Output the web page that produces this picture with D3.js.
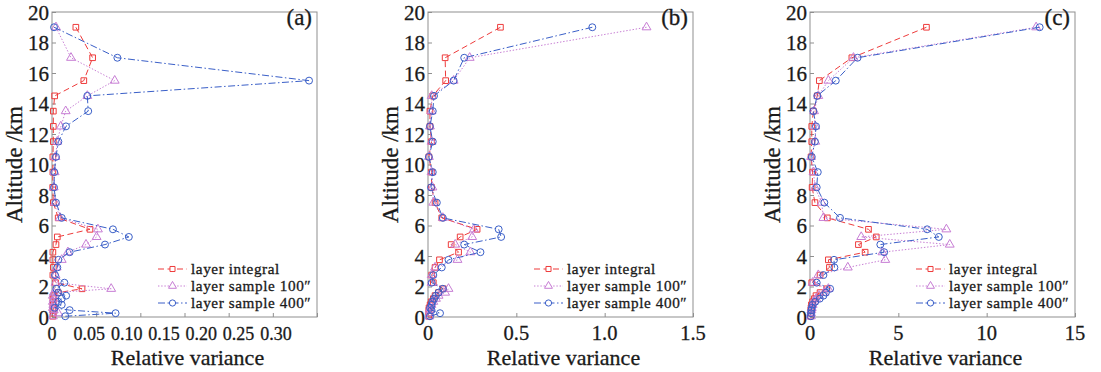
<!DOCTYPE html>
<html>
<head>
<meta charset="utf-8">
<script src="https://cdn.jsdelivr.net/npm/d3@7"></script>
<style>
  body { margin: 0; background: #fff; }
</style>
</head>
<body>
<div id="chart"></div>
<script>
// Altitude levels (km), shared by all three panels
const altitudes = [19, 17, 15.5, 14.5, 13.5, 12.5, 11.5, 10.5, 9.5, 8.5, 7.5, 6.5, 5.75, 5.25, 4.75, 4.25,
    3.75, 3.25, 2.75, 2.25, 1.85, 1.6, 1.4, 1.2, 1.0, 0.8, 0.6, 0.45, 0.25, 0.05];

// Panel (a)
const integralA = [0.027, 0.046, 0.036, 0.003, 0.0015, 0.0015, 0.0015, 0.001, 0.001, 0.0008, 0.0015, 0.007, 0.043, 0.006, 0.0045, 0.001,
    0.001, 0.0015, 0.001, 0.004, 0.034, 0.007, 0.002, 0.001, 0.0015, 0.001, 0.002, 0.001, 0.0015, 0.001];
const sample100A = [0.0045, 0.0215, 0.071, 0.040, 0.0155, 0.010, 0.006, 0.004, 0.003, 0.002, 0.0034, 0.009, 0.052, 0.0505, 0.0385, 0.018,
    0.011, 0.0053, 0.004, 0.004, 0.067, 0.002, 0.001, 0.002, 0.001, 0.0015, 0.001, 0.002, 0.007, 0.001];
const sample400A = [0.0023, 0.074, 0.291, 0.040, 0.041, 0.0158, 0.0072, 0.0045, 0.0026, 0.0023, 0.0045, 0.011, 0.069, 0.087, 0.060, 0.020,
    0.0072, 0.006, 0.0034, 0.014, 0.005, 0.007, 0.016, 0.011, 0.007, 0.011, 0.003, 0.020, 0.072, 0.015];

// Panel (b)
const integralB = [0.41, 0.097, 0.10, 0.027, 0.011, 0.011, 0.02, 0.005, 0.02, 0.02, 0.04, 0.078, 0.278, 0.182, 0.131, 0.173,
    0.065, 0.04, 0.021, 0.03, 0.087, 0.059, 0.04, 0.03, 0.018, 0.012, 0.006, 0.005, 0.005, 0.004];
const sample100B = [1.237, 0.236, 0.145, 0.021, 0.02, 0.011, 0.02, 0.005, 0.02, 0.025, 0.03, 0.084, 0.26, 0.25, 0.154, 0.24,
    0.167, 0.04, 0.021, 0.02, 0.116, 0.097, 0.06, 0.045, 0.03, 0.02, 0.012, 0.01, 0.01, 0.008];
const sample400B = [0.93, 0.205, 0.145, 0.034, 0.027, 0.011, 0.027, 0.005, 0.027, 0.017, 0.05, 0.084, 0.40, 0.414, 0.205, 0.297,
    0.116, 0.078, 0.03, 0.021, 0.084, 0.06, 0.045, 0.035, 0.025, 0.02, 0.012, 0.02, 0.068, 0.011];

// Panel (c)
const integralC = [6.59, 2.37, 0.53, 0.41, 0.19, 0.1, 0.1, 0.06, 0.15, 0.12, 0.28, 0.98, 3.31, 3.75, 2.74, 3.12,
    1.04, 1.1, 0.57, 0.1, 0.95, 0.57, 0.34, 0.25, 0.15, 0.08, 0.06, 0.05, 0.04, 0.03];
const sample100C = [12.8, 2.46, 1.04, 0.47, 0.23, 0.3, 0.3, 0.06, 0.2, 0.28, 0.66, 0.76, 7.72, 2.9, 7.91, 4.1,
    4.26, 2.14, 0.47, 0.15, 1.04, 0.8, 0.5, 0.35, 0.2, 0.15, 0.1, 0.08, 0.06, 0.05];
const sample400C = [13.0, 2.69, 1.46, 0.41, 0.19, 0.34, 0.28, 0.1, 0.44, 0.38, 0.81, 1.7, 6.63, 7.29, 3.98, 4.2,
    1.36, 1.38, 0.76, 0.38, 1.14, 0.9, 0.76, 0.55, 0.3, 0.15, 0.1, 0.08, 0.06, 0.05];

// Axes
const yTicks = [0, 2, 4, 6, 8, 10, 12, 14, 16, 18, 20];
const xTicksA = [0, 0.05, 0.10, 0.15, 0.20, 0.25, 0.30];
const xLabelsA = ['0', '0.05', '0.10', '0.15', '0.20', '0.25', '0.30'];
const xTicksB = [0, 0.5, 1.0, 1.5];
const xLabelsB = ['0', '0.5', '1.0', '1.5'];
const xTicksC = [0, 5, 10, 15];
const xLabelsC = ['0', '5', '10', '15'];
const panelNames = ['(a)', '(b)', '(c)'];
const seriesNames = ['layer integral', 'layer sample 100\u2033', 'layer sample 400\u2033'];

const serif = '"Liberation Serif", "DejaVu Serif", serif';
const ink = '#1a1a1a';

// SVG canvas
const width = 1101;
const height = 372;
const svg = d3.select('#chart').append('svg')
    .attr('width', width)
    .attr('height', height)
    .attr('font-family', serif);
svg.append('rect').attr('width', width).attr('height', height).attr('fill', '#fff');

// Layout
const plotTop = 12;
const plotBottom = 317;
const plotWidth = 265;
const frameColor = '#8f8f8f';

const panels = [
    { left: 52, xMax: 0.3, ticks: xTicksA, labels: xLabelsA, labelSpread: 0.845, labelSize: 18,
      data: [integralA, sample100A, sample400A], name: panelNames[0] },
    { left: 428, xMax: 1.5, ticks: xTicksB, labels: xLabelsB, labelSpread: 1, labelSize: 20.5,
      data: [integralB, sample100B, sample400B], name: panelNames[1] },
    { left: 810, xMax: 15, ticks: xTicksC, labels: xLabelsC, labelSpread: 1, labelSize: 20.5,
      data: [integralC, sample100C, sample400C], name: panelNames[2] }
];

// Series styling: red dashed squares, violet dotted triangles, blue dash-dot circles
const styles = [
    { color: '#ee3b3b', dash: '6,3.5', symbol: d3.symbolSquare, size: 32 },
    { color: '#c77dd4', dash: '1.4,1.8', symbol: d3.symbolTriangle, size: 34 },
    { color: '#3a5fc8', dash: '7,2.5,1.5,2.5', symbol: d3.symbolCircle, size: 38 }
];

const y = d3.scaleLinear().domain([0, 20]).range([plotBottom, plotTop]);

// text in a slightly heavier serif, like the reference
function addText(g, size) {
    return g.append('text')
        .attr('font-family', serif)
        .attr('font-size', size)
        .attr('fill', ink)
        .attr('stroke', ink)
        .attr('stroke-width', 0.3);
}

panels.forEach(p => {
    const x = d3.scaleLinear().domain([0, p.xMax]).range([p.left, p.left + plotWidth]);
    // tick labels of panel (a) sit closer together than its tick marks
    const xl = d3.scaleLinear().domain([0, p.xMax]).range([p.left, p.left + plotWidth * p.labelSpread]);
    const g = svg.append('g');

    // x ticks (inward)
    const xAxis = g.append('g')
        .attr('transform', `translate(0,${plotBottom})`)
        .call(d3.axisBottom(x).tickValues(p.ticks).tickSize(-4));
    xAxis.select('.domain').remove();
    xAxis.selectAll('text').remove();
    xAxis.selectAll('line').attr('stroke', frameColor);

    // x tick labels
    p.ticks.forEach((t, i) => {
        addText(g, p.labelSize)
            .attr('x', xl(t))
            .attr('y', 340)
            .attr('text-anchor', 'middle')
            .text(p.labels[i]);
    });

    // y ticks (inward) and labels
    const yAxis = g.append('g')
        .attr('transform', `translate(${p.left},0)`)
        .call(d3.axisLeft(y).tickValues(yTicks).tickSize(-4).tickPadding(3).tickFormat(d3.format('d')));
    yAxis.select('.domain').remove();
    yAxis.attr('font-family', serif);
    yAxis.selectAll('line').attr('stroke', frameColor);
    yAxis.selectAll('text')
        .attr('font-size', 21)
        .attr('font-family', serif)
        .attr('fill', ink)
        .attr('stroke', ink)
        .attr('stroke-width', 0.3)
        .attr('dy', '0.34em');

    // frame
    g.append('rect')
        .attr('x', p.left)
        .attr('y', plotTop)
        .attr('width', plotWidth)
        .attr('height', plotBottom - plotTop)
        .attr('fill', 'none')
        .attr('stroke', frameColor)
        .attr('stroke-width', 1);

    // series
    const line = d3.line()
        .x(d => x(d[0]))
        .y(d => y(d[1]));

    p.data.forEach((values, s) => {
        const st = styles[s];
        const pts = values.map((v, i) => [v, altitudes[i]]);
        g.append('path')
            .datum(pts)
            .attr('d', line)
            .attr('fill', 'none')
            .attr('stroke', st.color)
            .attr('stroke-width', 1)
            .attr('stroke-dasharray', st.dash);
        g.selectAll(null)
            .data(pts)
            .join('path')
            .attr('transform', d => `translate(${x(d[0])},${y(d[1])})`)
            .attr('d', d3.symbol().type(st.symbol).size(st.size))
            .attr('fill', 'none')
            .attr('stroke', st.color)
            .attr('stroke-width', 1);
    });

    // legend
    seriesNames.forEach((name, s) => {
        const st = styles[s];
        const ly = 269 + s * 17;
        const lx = p.left + 106;
        g.append('line')
            .attr('x1', lx).attr('x2', lx + 29)
            .attr('y1', ly).attr('y2', ly)
            .attr('stroke', st.color)
            .attr('stroke-width', 1)
            .attr('stroke-dasharray', st.dash);
        g.append('path')
            .attr('transform', `translate(${lx + 14.5},${ly})`)
            .attr('d', d3.symbol().type(st.symbol).size(st.size * 0.8))
            .attr('fill', '#fff')
            .attr('stroke', st.color);
        addText(g, 15.2)
            .attr('x', lx + 33)
            .attr('y', ly + 5)
            .attr('letter-spacing', 0.6)
            .text(name);
    });

    // panel tag
    addText(g, 23)
        .attr('x', p.left + plotWidth - 5)
        .attr('y', 25)
        .attr('text-anchor', 'end')
        .text(p.name);

    // axis titles
    addText(g, 22)
        .attr('x', p.left + plotWidth / 2 + 3)
        .attr('y', 365)
        .attr('text-anchor', 'middle')
        .text('Relative variance');

    addText(g, 23)
        .attr('transform', `translate(${p.left - 30},${(plotTop + plotBottom) / 2}) rotate(-90)`)
        .attr('text-anchor', 'middle')
        .text('Altitude /km');
});
</script>
</body>
</html>
